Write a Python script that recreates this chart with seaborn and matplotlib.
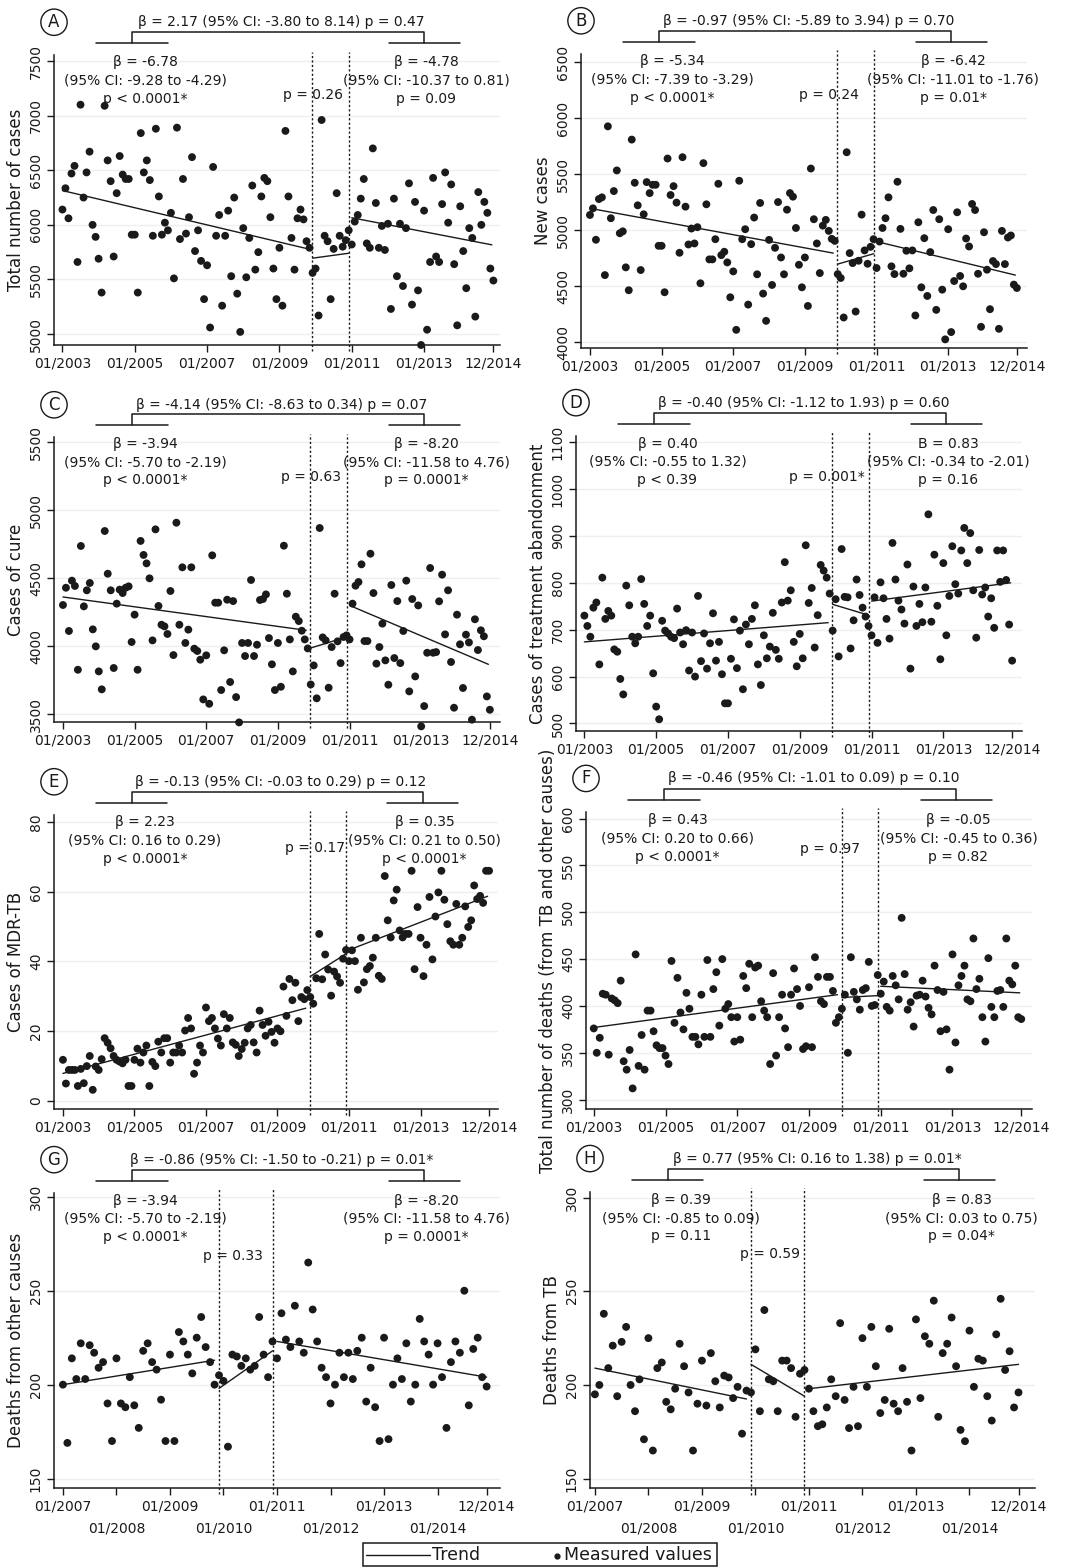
import numpy as np
import pandas as pd
import matplotlib
matplotlib.use("Agg")
import matplotlib.pyplot as plt
import seaborn as sns
from matplotlib.lines import Line2D
from matplotlib.patches import Rectangle

sns.set_style("ticks")
plt.rcParams['font.family'] = ['DejaVu Sans']

W, H = 1077, 1568

# ---------------- data (monthly series) ----------------
months_af = np.arange(144)   # 01/2003 .. 12/2014
months_gh = np.arange(96)    # 01/2007 .. 12/2014

total_cases = [6140, 6335, 6060, 6470, 6540, 5660, 7100, 6250, 6480, 6670, 6000, 5890,
               5690, 5380, 7090, 6590, 6400, 5710, 6290, 6630, 6460, 6420, 6420, 5910,
               5910, 5380, 6840, 6480, 6590, 6410, 5900, 6880, 6260, 5910, 6020, 5950,
               6110, 5510, 6890, 5870, 6420, 5920, 6070, 6620, 5760, 5950, 5670, 5320,
               5630, 5060, 6530, 5900, 6090, 5260, 5900, 6130, 5530, 6250, 5370, 5020,
               5970, 5520, 5880, 6360, 5590, 5750, 6260, 6430, 6400, 6070, 5600, 5320,
               5790, 5260, 6860, 6260, 5880, 5590, 6060, 6140, 6050, 5850, 5790, 5560,
               5600, 5170, 6960, 5900, 5850, 5320, 5780, 6290, 5900, 5800, 5860, 5950,
               5820, 6030, 6090, 6240, 6420, 5830, 5790, 6700, 6200, 5790, 5990, 5770,
               6010, 5230, 6240, 5530, 6010, 5440, 5970, 6380, 5270, 6210, 5400, 4900,
               6130, 5040, 5660, 6430, 5710, 5660, 6190, 6480, 6020, 6370, 5640, 5080,
               6170, 5760, 5420, 5970, 5880, 5160, 6300, 6000, 6210, 6110, 5600, 5490]

new_cases = [5136, 5195, 4915, 5278, 5293, 4600, 5926, 5107, 5349, 5533, 4973, 4990,
             4669, 4465, 5808, 5423, 5222, 4645, 5142, 5429, 5331, 5405, 5405, 4861,
             4861, 4447, 5639, 5314, 5393, 5246, 4799, 5651, 5210, 4873, 5015, 4882,
             5027, 4527, 5598, 5231, 4740, 4740, 4920, 5414, 4778, 4808, 4713, 4402,
             4633, 4112, 5441, 4920, 5009, 4337, 4876, 5113, 4607, 5243, 4435, 4192,
             4914, 4512, 4843, 5251, 4757, 4607, 5183, 5331, 5299, 5020, 4692, 4491,
             4757, 4325, 5550, 5098, 4882, 4618, 5041, 5092, 4994, 4923, 4905, 4609,
             4574, 4222, 5695, 4796, 4707, 4275, 4728, 5139, 4820, 4701, 4852, 4920,
             4663, 4899, 5020, 5107, 5293, 4678, 4609, 5432, 5012, 4612, 4817, 4660,
             4820, 4240, 5071, 4491, 4929, 4414, 4805, 5180, 4290, 5098, 4470, 4027,
             5009, 4092, 4547, 5160, 4592, 4500, 4926, 4855, 5234, 5180, 4612, 4139,
             4982, 4648, 4296, 4725, 4698, 4121, 4994, 4698, 4935, 4953, 4515, 4485]

cure_cases = [4304, 4431, 4113, 4483, 4444, 3828, 4738, 4294, 4412, 4466, 4125, 4000,
              3816, 3684, 4848, 4534, 4412, 3841, 4314, 4417, 4392, 4431, 4441, 4032,
              4233, 3828, 4775, 4672, 4610, 4500, 4044, 4860, 4297, 4159, 4147, 4091,
              4407, 3936, 4909, 4159, 4581, 4025, 4123, 4581, 3983, 3966, 3902, 3610,
              3934, 3578, 4669, 4321, 4321, 3679, 3971, 4343, 3738, 4333, 3627, 3441,
              4025, 3929, 4025, 4488, 3929, 4012, 4341, 4348, 4382, 4061, 3868, 3679,
              4025, 3703, 4740, 4387, 4051, 3816, 4218, 4186, 4115, 4051, 3985, 3720,
              3860, 3618, 4870, 4066, 4044, 3696, 3995, 4387, 4037, 3877, 4069, 4081,
              4051, 4314, 4446, 4473, 4603, 4039, 4039, 4681, 4392, 3873, 3995, 4167,
              3897, 3718, 4451, 3914, 4333, 3877, 4113, 4483, 3669, 4348, 3779, 4301,
              3412, 3561, 3953, 4576, 3953, 3958, 4331, 4527, 4088, 4412, 3885, 3549,
              4233, 4015, 3694, 4086, 4029, 3461, 4199, 3973, 4118, 4074, 3632, 3534]

abandonment = [730, 708, 685, 747, 758, 626, 811, 723, 740, 730, 658, 653,
               595, 562, 794, 752, 685, 671, 685, 808, 755, 708, 730, 607,
               536, 509, 719, 698, 692, 685, 682, 745, 694, 669, 699, 613,
               694, 600, 772, 633, 692, 617, 671, 735, 634, 674, 605, 543,
               543, 638, 722, 618, 698, 573, 711, 669, 723, 752, 626, 582,
               688, 639, 664, 736, 657, 638, 758, 844, 762, 784, 674, 622,
               691, 639, 880, 757, 789, 662, 731, 838, 826, 811, 777, 698,
               765, 643, 872, 770, 769, 660, 720, 807, 774, 747, 728, 708,
               688, 769, 672, 801, 767, 723, 681, 885, 807, 762, 743, 713,
               839, 617, 792, 708, 755, 716, 790, 946, 717, 860, 751, 637,
               842, 688, 772, 878, 797, 777, 869, 917, 842, 906, 784, 683,
               870, 775, 790, 728, 767, 704, 869, 802, 869, 806, 711, 634]

mdr_tb = [11.8, 5.0, 8.9, 8.9, 8.9, 4.3, 9.2, 5.1, 10.0, 12.9, 3.2, 9.9,
          8.9, 12.0, 18.0, 16.7, 15.1, 12.9, 11.8, 11.3, 10.8, 11.8, 4.3, 4.3,
          11.8, 15.0, 11.0, 13.9, 15.9, 4.3, 11.2, 10.0, 17.0, 13.9, 18.0, 18.0,
          11.0, 13.9, 13.9, 15.9, 13.9, 20.2, 23.8, 20.8, 7.8, 11.0, 15.9, 13.9,
          26.8, 22.9, 23.8, 20.8, 17.9, 15.9, 24.9, 20.8, 23.8, 16.8, 16.1, 12.9,
          14.9, 16.7, 20.8, 21.8, 16.8, 13.9, 25.9, 21.8, 18.7, 22.7, 19.8, 16.7,
          20.8, 20.0, 32.8, 24.4, 35.0, 28.9, 33.9, 22.9, 29.8, 29.2, 31.8, 29.8,
          27.9, 35.2, 47.9, 34.9, 42.0, 37.7, 30.2, 37.1, 35.7, 33.9, 40.8, 43.3,
          40.1, 43.2, 40.1, 31.9, 46.8, 34.0, 37.8, 38.7, 41.1, 46.8, 35.9, 35.0,
          64.5, 51.8, 46.9, 57.5, 60.6, 48.9, 46.9, 47.9, 47.9, 66.0, 37.8, 55.6,
          46.8, 35.8, 44.8, 58.5, 40.6, 52.9, 59.8, 66.0, 57.7, 50.7, 45.8, 44.8,
          56.5, 44.8, 46.8, 55.8, 49.9, 51.8, 61.8, 57.9, 58.8, 56.8, 66.0, 66.0]

total_deaths = [376, 350, 366, 413, 412, 348, 408, 406, 403, 427, 341, 332,
                353, 312, 455, 336, 369, 332, 395, 395, 373, 358, 355, 355,
                347, 338, 448, 382, 430, 393, 375, 414, 397, 367, 367, 359,
                412, 367, 449, 367, 418, 436, 379, 450, 397, 402, 388, 362,
                388, 364, 432, 419, 445, 388, 441, 443, 405, 395, 388, 338,
                435, 347, 388, 412, 376, 356, 412, 440, 418, 400, 354, 357,
                420, 356, 452, 431, 405, 402, 431, 431, 416, 382, 388, 397,
                412, 350, 452, 415, 407, 396, 417, 419, 447, 400, 401, 433,
                413, 426, 399, 395, 432, 422, 407, 494, 434, 396, 404, 378,
                411, 412, 427, 410, 398, 391, 443, 417, 373, 415, 375, 332,
                455, 361, 422, 432, 443, 407, 405, 472, 418, 429, 388, 362,
                451, 399, 388, 416, 417, 399, 472, 427, 423, 443, 388, 386]

other_deaths = [200, 169, 214, 203, 222, 203, 221, 217, 209, 212, 190, 170,
                214, 190, 188, 204, 189, 177, 218, 222, 212, 208, 192, 170,
                216, 170, 228, 223, 216, 206, 225, 236, 220, 212, 200, 205,
                202, 167, 216, 215, 210, 214, 208, 210, 236, 216, 204, 223,
                214, 238, 224, 220, 242, 223, 217, 265, 240, 223, 209, 204,
                190, 200, 217, 204, 217, 203, 218, 225, 191, 209, 188, 170,
                225, 171, 200, 214, 203, 222, 191, 200, 235, 223, 216, 200,
                222, 204, 177, 212, 223, 217, 250, 189, 219, 225, 204, 199]

tb_deaths = [195, 200, 238, 209, 221, 194, 223, 231, 200, 186, 203, 171,
             225, 165, 209, 212, 191, 187, 198, 222, 210, 196, 165, 190,
             213, 189, 217, 202, 188, 205, 204, 193, 199, 174, 197, 196,
             219, 186, 240, 203, 202, 186, 213, 213, 209, 183, 206, 208,
             198, 186, 178, 179, 188, 203, 194, 233, 192, 177, 199, 178,
             225, 199, 231, 210, 185, 192, 230, 190, 186, 209, 191, 165,
             235, 193, 226, 222, 245, 183, 217, 222, 236, 210, 176, 170,
             229, 199, 214, 213, 194, 181, 227, 246, 208, 218, 188, 196]

# segmented-regression trend lines: (start, end) value of each of the 3 segments
trend_x_af = [(0, 81.5), (83, 95), (96, 142.5)]
trend_x_gh = [(0, 34), (35, 47), (48, 95)]
trend_total = [(6314, 5780), (5695, 5740), (6065, 5817)]
trend_new = [(5195, 4796), (4698, 4790), (4899, 4600)]
trend_cure = [(4363, 4118), (3988, 4069), (4301, 3868)]
trend_aband = [(674, 715), (754, 731), (761, 800)]
trend_mdr = [(7.9, 26.6), (35.7, 42.2), (43.3, 58.7)]
trend_deaths = [(377, 412), (409, 411), (421, 414)]
trend_other = [(200, 213), (198, 218), (223, 204)]
trend_tb = [(209, 192.5), (211, 194), (198, 211)]

af_ticks = [0, 24, 48, 72, 96, 120, 143]
af_labels = ["01/2003", "01/2005", "01/2007", "01/2009", "01/2011", "01/2013", "12/2014"]
gh_ticks = [0, 24, 48, 72, 95]
gh_labels = ["01/2007", "01/2009", "01/2011", "01/2013", "12/2014"]
gh_ticks_low = [12, 36, 60, 84]
gh_labels_low = ["01/2008", "01/2010", "01/2012", "01/2014"]

top_texts = ["β = 2.17 (95% CI: -3.80 to 8.14) p = 0.47",
             "β = -0.97 (95% CI: -5.89 to 3.94) p = 0.70",
             "β = -4.14 (95% CI: -8.63 to 0.34) p = 0.07",
             "β = -0.40 (95% CI: -1.12 to 1.93) p = 0.60",
             "β = -0.13 (95% CI: -0.03 to 0.29) p = 0.12",
             "β = -0.46 (95% CI: -1.01 to 0.09) p = 0.10",
             "β = -0.86 (95% CI: -1.50 to -0.21) p = 0.01*",
             "β = 0.77 (95% CI: 0.16 to 1.38) p = 0.01*"]
left_texts = ["β = -6.78\n(95% CI: -9.28 to -4.29)\np < 0.0001*",
              "β = -5.34\n(95% CI: -7.39 to -3.29)\np < 0.0001*",
              "β = -3.94\n(95% CI: -5.70 to -2.19)\np < 0.0001*",
              "β = 0.40\n(95% CI: -0.55 to 1.32)\np < 0.39",
              "β = 2.23\n(95% CI: 0.16 to 0.29)\np < 0.0001*",
              "β = 0.43\n(95% CI: 0.20 to 0.66)\np < 0.0001*",
              "β = -3.94\n(95% CI: -5.70 to -2.19)\np < 0.0001*",
              "β = 0.39\n(95% CI: -0.85 to 0.09)\np = 0.11"]
right_texts = ["β = -4.78\n(95% CI: -10.37 to 0.81)\np = 0.09",
               "β = -6.42\n(95% CI: -11.01 to -1.76)\np = 0.01*",
               "β = -8.20\n(95% CI: -11.58 to 4.76)\np = 0.0001*",
               "B = 0.83\n(95% CI: -0.34 to -2.01)\np = 0.16",
               "β = 0.35\n(95% CI: 0.21 to 0.50)\np < 0.0001*",
               "β = -0.05\n(95% CI: -0.45 to 0.36)\np = 0.82",
               "β = -8.20\n(95% CI: -11.58 to 4.76)\np = 0.0001*",
               "β = 0.83\n(95% CI: 0.03 to 0.75)\np = 0.04*"]
mid_texts = ["p = 0.26", "p = 0.24", "p = 0.63", "p = 0.001*",
             "p = 0.17", "p = 0.97", "p = 0.33", "p = 0.59"]
letters = ["A", "B", "C", "D", "E", "F", "G", "H"]
ylabels = ["Total number of cases", "New cases", "Cases of cure",
           "Cases of treatment abandonment", "Cases of MDR-TB",
           "Total number of deaths (from TB and other causes)",
           "Deaths from other causes", "Deaths from TB"]

# ---------------- layout (pixel boxes: left, top, right, bottom) ----------------
panels = [
    dict(box=(54, 55, 500, 345), x=months_af, y=total_cases, tr=trend_total, xlim=(-2.8, 145.2),
         ylim=(4900, 7555), yt=np.arange(5000, 7501, 500), mid=(83, 0.862)),
    dict(box=(581, 54, 1027, 348), x=months_af, y=new_cases, tr=trend_new, xlim=(-3, 146.4),
         ylim=(3950, 6571), yt=np.arange(4000, 6501, 500), mid=(80, 0.859)),
    dict(box=(54, 437, 500, 722), x=months_af, y=cure_cases, tr=trend_cure, xlim=(-3, 146.4),
         ylim=(3444, 5539), yt=np.arange(3500, 5501, 500), mid=(83, 0.86)),
    dict(box=(576, 436, 1022, 731), x=months_af, y=abandonment, tr=trend_aband, xlim=(-2.8, 146.3),
         ylim=(484, 1113), yt=np.arange(500, 1101, 100), mid=(81, 0.862)),
    dict(box=(54, 815, 498, 1109), x=months_af, y=mdr_tb, tr=trend_mdr, xlim=(-3, 146),
         ylim=(-2.3, 82), yt=np.arange(0, 81, 20), mid=(84.5, 0.887)),
    dict(box=(586, 812, 1032, 1109), x=months_af, y=total_deaths, tr=trend_deaths, xlim=(-2.6, 146.6),
         ylim=(290, 607), yt=np.arange(300, 601, 50), mid=(79, 0.877)),
    dict(box=(54, 1193, 500, 1488), x=months_gh, y=other_deaths, tr=trend_other, xlim=(-2, 98),
         ylim=(145, 302), yt=np.arange(150, 301, 50), mid=(38.2, 0.785)),
    dict(box=(590, 1192, 1035, 1488), x=months_gh, y=tb_deaths, tr=trend_tb, xlim=(-1.1, 98.7),
         ylim=(145, 303), yt=np.arange(150, 301, 50), mid=(39.3, 0.79)),
]

ink = "#1a1a1a"
fig = plt.figure(figsize=(W / 100, H / 100), dpi=100)

for i, p in enumerate(panels):
    x0, y0, x1, y1 = p["box"]
    ax = fig.add_axes([x0 / W, 1 - y1 / H, (x1 - x0) / W, (y1 - y0) / H])
    gh = i >= 6
    df = pd.DataFrame({"month": p["x"], "value": p["y"]})
    sns.scatterplot(data=df, x="month", y="value", ax=ax, color=ink, s=32,
                    edgecolor="none", clip_on=False, zorder=3, legend=False)
    seg_x = trend_x_gh if gh else trend_x_af
    for (sx0, sx1), (sy0, sy1) in zip(seg_x, p["tr"]):
        sns.lineplot(x=[sx0, sx1], y=[sy0, sy1], ax=ax, color=ink, lw=1.0, zorder=4)
    breaks = (34.9, 47) if gh else (82.9, 95)
    for b in breaks:
        ax.axvline(b, ymin=-0.022, ymax=1.012, color=ink, lw=1.0, ls=(0, (1.6, 1.6)),
                   clip_on=False, zorder=2)

    ax.set_xlim(*p["xlim"])
    ax.set_ylim(*p["ylim"])
    ax.set_yticks(p["yt"])
    ax.tick_params(axis="both", which="both", labelsize=10, length=5, width=1,
                   color=ink, labelcolor=ink, pad=3)
    if gh:
        ax.set_xticks(gh_ticks)
        ax.set_xticklabels(gh_labels)
        ax.set_xticks(gh_ticks_low, minor=True)
        ax.set_xticklabels(gh_labels_low, minor=True)
        ax.tick_params(axis="x", which="minor", pad=19)
    else:
        ax.set_xticks(af_ticks)
        ax.set_xticklabels(af_labels)
    ax.tick_params(axis="y", labelrotation=90)
    for lbl in ax.get_yticklabels():
        lbl.set_va("center")
    ax.set_xlabel("")
    ax.set_ylabel(ylabels[i], fontsize=12, color=ink, labelpad=3)
    ax.grid(axis="y", color="#efefef", lw=1)
    ax.set_axisbelow(True)
    sns.despine(ax=ax)
    for s in ("left", "bottom"):
        ax.spines[s].set_color(ink)
        ax.spines[s].set_linewidth(1.1)

    # annotations
    tr = ax.transAxes
    kw = dict(transform=tr, clip_on=False, color=ink, lw=1.1)
    ax.plot([0.175, 0.175, 0.83, 0.83], [1.041, 1.079, 1.079, 1.041], **kw)
    ax.plot([0.095, 0.255], [1.041, 1.041], **kw)
    ax.plot([0.75, 0.91], [1.041, 1.041], **kw)
    ax.text(0.51, 1.113, top_texts[i], transform=tr, ha="center", va="center",
            fontsize=10, color=ink)
    ax.text(0.0, 1.113, letters[i], transform=tr, ha="center", va="center", fontsize=12,
            color=ink, bbox=dict(boxstyle="circle,pad=0.25", fc="white", ec=ink, lw=1))
    ax.text(0.205, 0.912, left_texts[i], transform=tr, ha="center", va="center",
            fontsize=10, color=ink, linespacing=1.4, multialignment="center")
    ax.text(0.835, 0.912, right_texts[i], transform=tr, ha="center", va="center",
            fontsize=10, color=ink, linespacing=1.4, multialignment="center")
    mx, my = p["mid"]
    ax.text(mx, my, mid_texts[i], transform=ax.get_xaxis_transform(), ha="center",
            va="center", fontsize=10, color=ink)

# legend box at the bottom
ft = fig.transFigure
fig.add_artist(Rectangle((363 / W, 1 - 1566 / H), 354 / W, 23 / H, transform=ft,
                         fill=False, ec=ink, lw=1.1))
fig.add_artist(Line2D([366 / W, 430 / W], [1 - 1555 / H] * 2, transform=ft, color=ink, lw=1))
fig.text(432 / W, 1 - 1555 / H, "Trend", ha="left", va="center", fontsize=12.5, color=ink)
fig.add_artist(Line2D([557 / W], [1 - 1556 / H], transform=ft, marker="o", ms=3.5,
                      color=ink, ls="none"))
fig.text(564 / W, 1 - 1555 / H, "Measured values", ha="left", va="center", fontsize=12.5,
         color=ink)

fig.savefig("out.png", dpi=100)
